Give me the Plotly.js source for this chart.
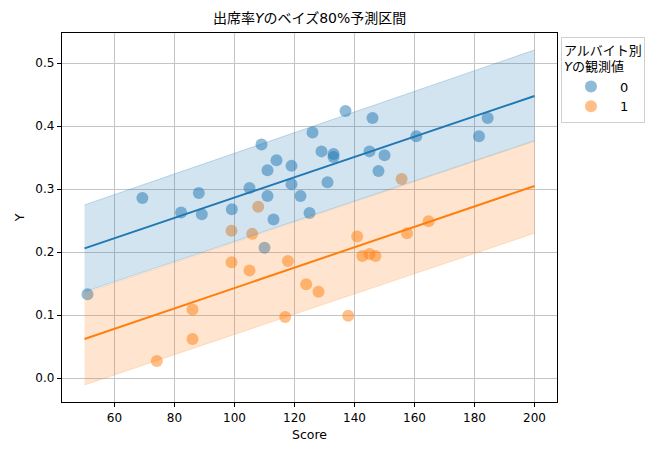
<!DOCTYPE html>
<html>
<head>
<meta charset="utf-8">
<script src="https://cdn.plot.ly/plotly-3.0.1.min.js"></script>
<style>html,body{margin:0;padding:0;background:#fff;}#chart{width:668px;height:456px;}</style>
</head>
<body>
<div id="chart"></div>
<script>
// Observed data, group 0 (アルバイト = 0)
const score0 = [51, 69.3, 82.2, 88.1, 89.1, 99.1, 105, 109, 110, 111, 111, 113, 114, 119, 119, 122, 125, 126, 129, 131, 133, 133, 137, 145, 146, 148, 150, 160.6, 181.5, 184.4];
const y0 = [0.133, 0.286, 0.263, 0.294, 0.260, 0.268, 0.302, 0.371, 0.207, 0.330, 0.289, 0.252, 0.346, 0.337, 0.308, 0.289, 0.262, 0.390, 0.360, 0.311, 0.356, 0.351, 0.424, 0.360, 0.413, 0.329, 0.354, 0.384, 0.384, 0.413];
// Observed data, group 1 (アルバイト = 1)
const score1 = [74.1, 86, 86, 99, 99, 105, 105.9, 107.9, 116.9, 117.8, 123.9, 128, 137.9, 140.9, 142.6, 145, 147, 155.7, 157.5, 164.7];
const y1 = [0.027, 0.062, 0.109, 0.184, 0.234, 0.171, 0.229, 0.272, 0.097, 0.186, 0.149, 0.137, 0.099, 0.225, 0.194, 0.197, 0.194, 0.316, 0.230, 0.249];
// Prediction grid and 80% intervals
const xGrid = [50, 200];
const mean0 = [0.206, 0.448];
const lo0 = [0.137, 0.377];
const hi0 = [0.275, 0.521];
const mean1 = [0.062, 0.305];
const lo1 = [-0.011, 0.230];
const hi1 = [0.135, 0.376];

const blue = '#1f77b4', orange = '#ff7f0e';
const traces = [
  {x: score0, y: y0, mode: 'markers', name: '0', marker: {color: blue, opacity: 0.5, size: 12, line: {width: 0}}},
  {x: score1, y: y1, mode: 'markers', name: '1', marker: {color: orange, opacity: 0.5, size: 12, line: {width: 0}}},
  {x: xGrid, y: lo0, mode: 'lines', line: {color: 'rgba(31,119,180,0.25)', width: 1}, showlegend: false, hoverinfo: 'skip'},
  {x: xGrid, y: hi0, mode: 'lines', fill: 'tonexty', fillcolor: 'rgba(31,119,180,0.2)', line: {color: 'rgba(31,119,180,0.25)', width: 1}, showlegend: false, hoverinfo: 'skip'},
  {x: xGrid, y: lo1, mode: 'lines', line: {color: 'rgba(255,127,14,0.2)', width: 1}, showlegend: false, hoverinfo: 'skip'},
  {x: xGrid, y: hi1, mode: 'lines', fill: 'tonexty', fillcolor: 'rgba(255,127,14,0.2)', line: {color: 'rgba(255,127,14,0.2)', width: 1}, showlegend: false, hoverinfo: 'skip'},
  {x: xGrid, y: mean0, mode: 'lines', line: {color: blue, width: 2}, showlegend: false},
  {x: xGrid, y: mean1, mode: 'lines', line: {color: orange, width: 2}, showlegend: false}
];

const font = {family: 'DejaVu Sans, "Noto Sans CJK JP", sans-serif', size: 12, color: '#000'};
const layout = {
  width: 668, height: 456,
  margin: {l: 62, r: 111, t: 33, b: 54},
  paper_bgcolor: '#fff', plot_bgcolor: '#fff',
  font: font,
  title: {text: '出席率<i>Y</i>のベイズ80%予測区間', x: 0.4635, xanchor: 'center', y: 0.96, yanchor: 'middle', font: {family: font.family, size: 14, color: '#000'}},
  xaxis: {
    range: [42.5, 207.5], tickvals: [60, 80, 100, 120, 140, 160, 180, 200],
    showgrid: true, gridcolor: '#c4c4c4', gridwidth: 1, zeroline: false,
    showline: true, linecolor: '#000', linewidth: 1.2, mirror: true,
    ticks: 'outside', ticklen: 4, tickcolor: '#000',
    title: {text: 'Score', font: {size: 12.5}, standoff: 6}
  },
  yaxis: {
    range: [-0.038, 0.548], tickvals: [0, 0.1, 0.2, 0.3, 0.4, 0.5], ticktext: ['0.0', '0.1', '0.2', '0.3', '0.4', '0.5'],
    showgrid: true, gridcolor: '#c4c4c4', gridwidth: 1, zeroline: false,
    showline: true, linecolor: '#000', linewidth: 1.2, mirror: true,
    ticks: 'outside', ticklen: 4, tickcolor: '#000',
    title: {text: 'Y', font: {size: 12.5}, standoff: 8}
  },
  legend: {
    x: 1.008, xanchor: 'left', y: 0.99, yanchor: 'top', traceorder: 'normal',
    bordercolor: '#d0d0d0', borderwidth: 1, bgcolor: 'rgba(255,255,255,0.8)',
    title: {text: 'アルバイト別<br><i>Y</i>の観測値', font: {size: 13}},
    font: {size: 13}, itemsizing: 'constant', itemwidth: 48
  },
  showlegend: true
};
Plotly.newPlot('chart', traces, layout, {staticPlot: true});
</script>
</body>
</html>
